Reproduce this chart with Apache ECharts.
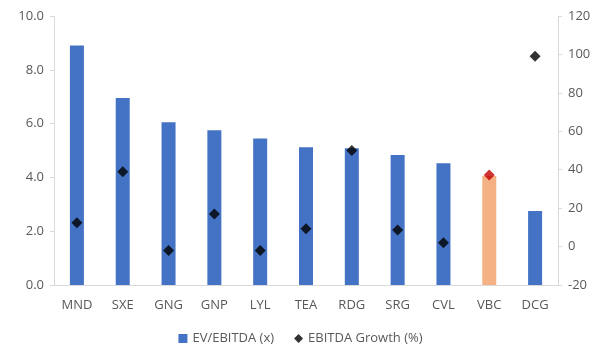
<!DOCTYPE html>
<html>
<head>
<meta charset="utf-8">
<script src="https://cdn.jsdelivr.net/npm/echarts@6/dist/echarts.min.js"></script>
<style>
  html, body { margin: 0; padding: 0; background: #fff; }
  #chart { width: 601px; height: 347px; }
</style>
</head>
<body>
<div id="chart"></div>
<script>
// Chart data
var categories = ["MND", "SXE", "GNG", "GNP", "LYL", "TEA", "RDG", "SRG", "CVL", "VBC", "DCG"];
var evEbitda = [8.9, 6.95, 6.05, 5.75, 5.45, 5.12, 5.08, 4.83, 4.53, 4.05, 2.75];
var ebitdaGrowth = [12.4, 39, -2, 17, -2, 9.3, 50, 8.6, 2, 37.3, 99];
var highlight = "VBC";

var chart = echarts.init(document.getElementById("chart"));

var textColor = "#595959";
var lineColor = "#d9d9d9";

chart.setOption({
  animation: false,
  textStyle: {
    fontFamily: "Open Sans, sans-serif",
    fontSize: 13,
    color: textColor
  },

  grid: {
    left: 54,
    right: 43,
    top: 16,
    bottom: 62
  },

  legend: {
    bottom: 2,
    left: "center",
    padding: 0,
    itemWidth: 9,
    itemHeight: 9,
    itemGap: 20,
    textStyle: { color: textColor, fontSize: 13 },
    data: [
      { name: "EV/EBITDA (x)", icon: "rect" },
      { name: "EBITDA Growth (%)", icon: "diamond" }
    ]
  },

  xAxis: {
    type: "category",
    data: categories,
    axisLine: { lineStyle: { color: lineColor } },
    axisTick: { show: false },
    axisLabel: { color: textColor, fontSize: 13, margin: 14 }
  },

  yAxis: [
    {
      type: "value",
      min: 0,
      max: 10,
      interval: 2,
      axisLine: { show: true, lineStyle: { color: lineColor } },
      axisTick: { show: true, length: 4, lineStyle: { color: lineColor } },
      splitLine: { show: false },
      axisLabel: {
        color: textColor,
        fontSize: 13,
        margin: 10,
        formatter: function (v) { return v.toFixed(1); }
      }
    },
    {
      type: "value",
      min: -20,
      max: 120,
      interval: 20,
      position: "right",
      axisLine: { show: true, lineStyle: { color: lineColor } },
      axisTick: { show: true, length: 4, lineStyle: { color: lineColor } },
      splitLine: { show: false },
      axisLabel: { color: textColor, fontSize: 13, margin: 10 }
    }
  ],

  series: [
    {
      name: "EV/EBITDA (x)",
      type: "bar",
      barWidth: 14,
      itemStyle: { color: "#4472c4" },
      data: evEbitda.map(function (v, i) {
        return categories[i] === highlight
          ? { value: v, itemStyle: { color: "#f4b183" } }
          : v;
      })
    },
    {
      name: "EBITDA Growth (%)",
      type: "scatter",
      yAxisIndex: 1,
      symbol: "diamond",
      symbolSize: 11,
      itemStyle: { color: "#000" },
      z: 5,
      data: ebitdaGrowth.map(function (v, i) {
        return categories[i] === highlight
          ? { value: v, itemStyle: { color: "#c00000" } }
          : v;
      })
    }
  ]
});
</script>
</body>
</html>
